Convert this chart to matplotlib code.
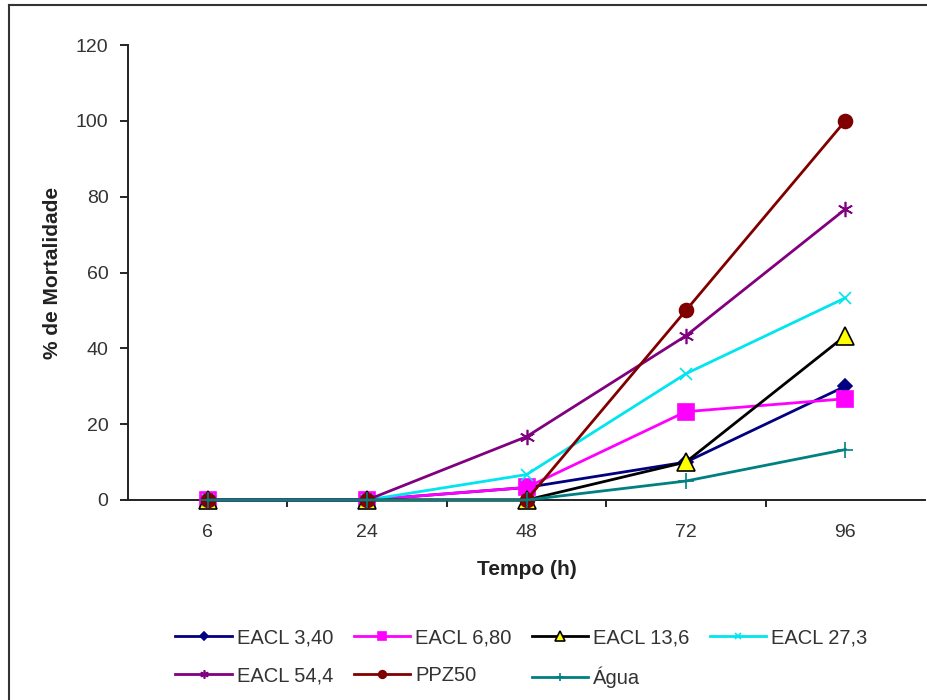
import numpy as np
import matplotlib.pyplot as plt
from matplotlib.lines import Line2D

plt.rcParams['font.family'] = ['Liberation Sans', 'DejaVu Sans']

tempos = ["6", "24", "48", "72", "96"]

eacl_340 = [0, 0, 3.3, 10, 30]
eacl_680 = [0, 0, 3.3, 23.3, 26.7]
eacl_136 = [0, 0, 0, 10, 43.3]
eacl_273 = [0, 0, 6.7, 33.3, 53.3]
eacl_544 = [0, 0, 16.7, 43.3, 76.7]
ppz50 = [0, 0, 0, 50, 100]
agua = [0, 0, 0, 5, 13.3]

y_ticks = [0, 20, 40, 60, 80, 100, 120]

fig = plt.figure(figsize=(9.28, 7), dpi=100)
ax = fig.add_axes([128 / 928, 200 / 700, 797 / 928, 455 / 700])

x = np.arange(len(tempos))

# (valores, rótulo, cor da linha, marcador, cor do marcador, tamanho)
series = [
    (eacl_340, "EACL 3,40", "#000080", "D", "#000080", 7),
    (eacl_680, "EACL 6,80", "#ff00ff", "s", "#ff00ff", 11.5),
    (eacl_136, "EACL 13,6", "#000000", "^", "#ffff00", 13),
    (eacl_273, "EACL 27,3", "#00e5ee", "x", "#00e5ee", 9),
    (eacl_544, "EACL 54,4", "#800080", (6, 2, 0), "#800080", 11),
    (ppz50, "PPZ50", "#800000", "o", "#800000", 10),
    (agua, "\u00c1gua", "#008080", "+", "#008080", 11),
]

handles = []
for vals, label, lc, mk, mc, ms in series:
    edge = "#000000" if mk == "^" else mc
    h, = ax.plot(x, vals, color=lc, lw=2, marker=mk, ms=ms,
                 markerfacecolor=mc, markeredgecolor=edge,
                 markeredgewidth=1.2, label=label, clip_on=False, zorder=3)
    handles.append(h)

ax.set_xlim(-0.5, 4.5)
ax.set_ylim(0, 120)
ax.set_yticks(y_ticks)
ax.set_xticks(x)
ax.set_xticklabels(tempos)
ax.set_xticks(np.arange(0.5, 4.5, 1), minor=True)
ax.tick_params(axis="x", which="major", length=0, pad=17, labelsize=14,
               labelcolor="#333333")
ax.tick_params(axis="x", which="minor", length=5, width=1.2, direction="out")
ax.tick_params(axis="y", length=6, width=1.2, direction="out", pad=8,
               labelsize=14, labelcolor="#333333")

for side in ["top", "right"]:
    ax.spines[side].set_visible(False)
for side in ["left", "bottom"]:
    ax.spines[side].set_linewidth(1.4)
    ax.spines[side].set_color("#222222")

ax.set_ylabel("% de Mortalidade", fontsize=15, fontweight="bold", labelpad=10,
              color="#222222")
ax.set_xlabel("Tempo (h)", fontsize=15, fontweight="bold", labelpad=14,
              color="#222222")

# legenda em linhas: reordena para o preenchimento por colunas
order = [0, 4, 1, 5, 2, 6, 3]
leg = fig.legend([handles[i] for i in order], [handles[i].get_label() for i in order],
                 ncol=4, loc="center", bbox_to_anchor=(0.562, 0.06),
                 frameon=False, fontsize=14.5, handlelength=2.8,
                 columnspacing=1.0, handletextpad=0.26, labelspacing=0.95,
                 markerscale=0.55, labelcolor="#333333")

# moldura da figura
fig.add_artist(Line2D([9 / 928, 9 / 928], [0, 1 - 5 / 700], color="#333333",
                      lw=1.5, transform=fig.transFigure))
fig.add_artist(Line2D([9 / 928, 1], [1 - 5 / 700, 1 - 5 / 700], color="#333333",
                      lw=1.5, transform=fig.transFigure))

fig.savefig("out.png", dpi=100)
